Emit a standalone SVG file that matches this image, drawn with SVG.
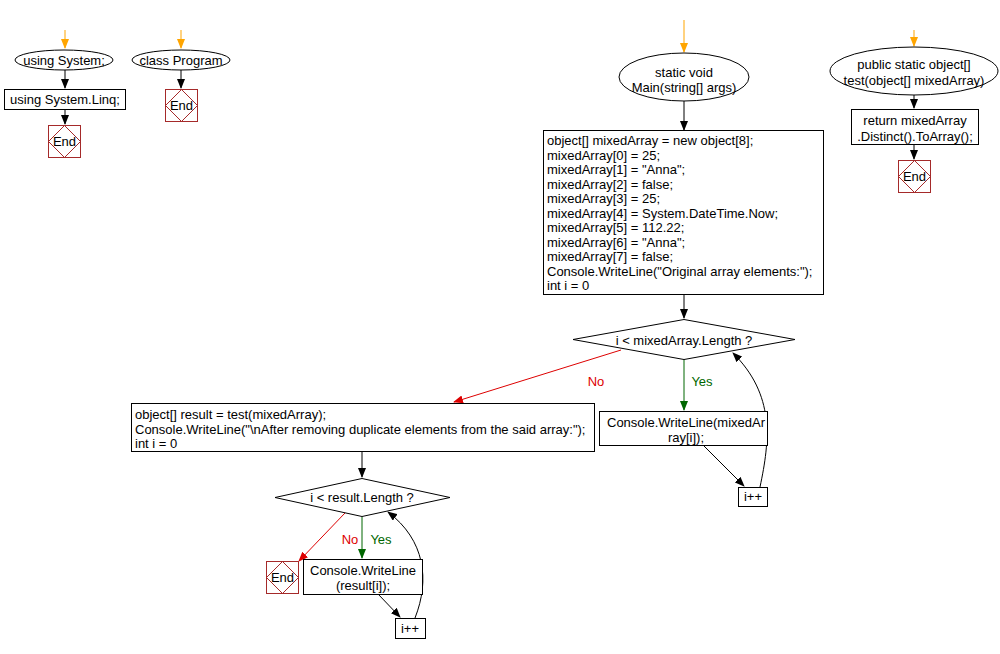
<svg xmlns="http://www.w3.org/2000/svg" width="1000" height="654" viewBox="0 0 1000 654">
<style>
text{font-family:"Liberation Sans",Arial,sans-serif;font-size:13px;fill:#000}
.c{text-anchor:middle}
.n{fill:#fff;stroke:#000;stroke-width:1}
.e{fill:#fff;stroke:#a52a2a;stroke-width:1}
.ed{fill:none;stroke:#a52a2a;stroke-width:1}
.k{fill:none;stroke:#000;stroke-width:1}
.o{fill:none;stroke:#ffa500;stroke-width:1}
.r{fill:none;stroke:#d00;stroke-width:1}
.g{fill:none;stroke:#060;stroke-width:1}
</style>
<defs>
<marker id="ak" markerWidth="10" markerHeight="8" refX="9" refY="4" orient="auto" markerUnits="userSpaceOnUse"><path d="M0,0 L10,4 L0,8 Z" fill="#000"/></marker>
<marker id="ao" markerWidth="10" markerHeight="8" refX="9" refY="4" orient="auto" markerUnits="userSpaceOnUse"><path d="M0,0 L10,4 L0,8 Z" fill="#ffa500"/></marker>
<marker id="ar" markerWidth="10" markerHeight="8" refX="9" refY="4" orient="auto" markerUnits="userSpaceOnUse"><path d="M0,0 L10,4 L0,8 Z" fill="#d00"/></marker>
<marker id="ag" markerWidth="10" markerHeight="8" refX="9" refY="4" orient="auto" markerUnits="userSpaceOnUse"><path d="M0,0 L10,4 L0,8 Z" fill="#060"/></marker>
</defs>
<rect width="1000" height="654" fill="#fff"/>
<g id="connectors">
<path class="o" d="M65,30 V48" marker-end="url(#ao)"/>
<path class="k" d="M65,70 V88" marker-end="url(#ak)"/>
<path class="k" d="M65,109 V124" marker-end="url(#ak)"/>
<path class="o" d="M181,30 V48" marker-end="url(#ao)"/>
<path class="k" d="M181,70 V88" marker-end="url(#ak)"/>
<path class="o" d="M684,20 V52" marker-end="url(#ao)"/>
<path class="k" d="M684,101 V130" marker-end="url(#ak)"/>
<path class="o" d="M914,30 V46" marker-end="url(#ao)"/>
<path class="k" d="M914,95 V108" marker-end="url(#ak)"/>
<path class="k" d="M914,144 V159" marker-end="url(#ak)"/>
<path class="k" d="M684,295 V318" marker-end="url(#ak)"/>
<path class="g" d="M684,359 V410" marker-end="url(#ag)"/>
<path class="r" d="M621,350 L454,402" marker-end="url(#ar)"/>
<path class="k" d="M703,445 L744,486" marker-end="url(#ak)"/>
<path class="k" d="M760,487 C770,440 775,395 733,353" marker-end="url(#ak)"/>
<path class="k" d="M362,451 V477" marker-end="url(#ak)"/>
<path class="g" d="M362,517 V558" marker-end="url(#ag)"/>
<path class="r" d="M345,513 L299,561" marker-end="url(#ar)"/>
<path class="k" d="M378,594 L400,617" marker-end="url(#ak)"/>
<path class="k" d="M415,618 C430,580 425,540 388,512" marker-end="url(#ak)"/>
<text x="596" y="386" class="c" style="fill:#d00">No</text>
<text x="702" y="386" class="c" style="fill:#060">Yes</text>
<text x="350" y="544" class="c" style="fill:#d00">No</text>
<text x="381" y="544" class="c" style="fill:#060">Yes</text>
</g>
<g id="n_using_system"><ellipse class="n" cx="64" cy="60" rx="49" ry="10"/><text x="64" y="65" class="c">using System;</text></g>
<g id="n_using_linq"><rect class="n" x="4.5" y="89.5" width="121" height="20"/><text x="65" y="104" class="c">using System.Linq;</text></g>
<g id="n_end1"><rect class="e" x="48.5" y="125.5" width="32" height="32"/><path class="ed" d="M64.5,125.5 L80.5,141.5 L64.5,157.5 L48.5,141.5 Z"/><text x="64.5" y="146" class="c">End</text></g>
<g id="n_class_program"><ellipse class="n" cx="181" cy="60" rx="49" ry="10"/><text x="181" y="65" class="c">class Program</text></g>
<g id="n_end2"><rect class="e" x="165.5" y="89.5" width="32" height="32"/><path class="ed" d="M181.5,89.5 L197.5,105.5 L181.5,121.5 L165.5,105.5 Z"/><text x="181.5" y="110" class="c">End</text></g>
<g id="n_main"><ellipse class="n" cx="684" cy="77" rx="65" ry="24"/><text x="684" y="77" class="c">static void</text><text x="684" y="92" class="c">Main(string[] args)</text></g>
<g id="n_init"><rect class="n" x="543.5" y="130.5" width="280" height="164"/>
<text x="547" y="145">object[] mixedArray = new object[8];</text>
<text x="547" y="159.5">mixedArray[0] = 25;</text>
<text x="547" y="174">mixedArray[1] = "Anna";</text>
<text x="547" y="188.5">mixedArray[2] = false;</text>
<text x="547" y="203">mixedArray[3] = 25;</text>
<text x="547" y="217.5">mixedArray[4] = System.DateTime.Now;</text>
<text x="547" y="232">mixedArray[5] = 112.22;</text>
<text x="547" y="246.5">mixedArray[6] = "Anna";</text>
<text x="547" y="261">mixedArray[7] = false;</text>
<text x="547" y="275.5">Console.WriteLine("Original array elements:");</text>
<text x="547" y="290">int i = 0</text>
</g>
<g id="n_test"><ellipse class="n" cx="914" cy="71" rx="84" ry="24"/><text x="914" y="69" class="c">public static object[]</text><text x="914" y="85" class="c">test(object[] mixedArray)</text></g>
<g id="n_return"><rect class="n" x="851.5" y="109.5" width="127" height="35"/><text x="915" y="125" class="c">return mixedArray</text><text x="915" y="141" class="c">.Distinct().ToArray();</text></g>
<g id="n_end3"><rect class="e" x="898.5" y="160.5" width="32" height="32"/><path class="ed" d="M914.5,160.5 L930.5,176.5 L914.5,192.5 L898.5,176.5 Z"/><text x="914.5" y="181" class="c">End</text></g>
<g id="n_dec1"><path class="n" d="M684,319.5 L795,339.5 L684,359.5 L573,339.5 Z"/><text x="684" y="345" class="c">i &lt; mixedArray.Length ?</text></g>
<g id="n_write1"><rect class="n" x="599.5" y="411.5" width="168" height="34"/><text x="686" y="427" class="c">Console.WriteLine(mixedAr</text><text x="686" y="442" class="c">ray[i]);</text></g>
<g id="n_inc1"><rect class="n" x="738.5" y="487.5" width="29" height="19"/><text x="753" y="501" class="c">i++</text></g>
<g id="n_result"><rect class="n" x="131.5" y="403.5" width="463" height="48"/>
<text x="135" y="419">object[] result = test(mixedArray);</text>
<text x="135" y="434">Console.WriteLine("\nAfter removing duplicate elements from the said array:");</text>
<text x="135" y="448">int i = 0</text>
</g>
<g id="n_dec2"><path class="n" d="M362,478.5 L450,497.5 L362,516.5 L275,497.5 Z"/><text x="362" y="502" class="c">i &lt; result.Length ?</text></g>
<g id="n_end4"><rect class="e" x="266.5" y="561.5" width="32" height="32"/><path class="ed" d="M282.5,561.5 L298.5,577.5 L282.5,593.5 L266.5,577.5 Z"/><text x="282.5" y="582" class="c">End</text></g>
<g id="n_write2"><rect class="n" x="303.5" y="559.5" width="119" height="35"/><text x="363" y="575" class="c">Console.WriteLine</text><text x="363" y="590" class="c">(result[i]);</text></g>
<g id="n_inc2"><rect class="n" x="395.5" y="618.5" width="30" height="20"/><text x="410" y="633" class="c">i++</text></g>
</svg>
